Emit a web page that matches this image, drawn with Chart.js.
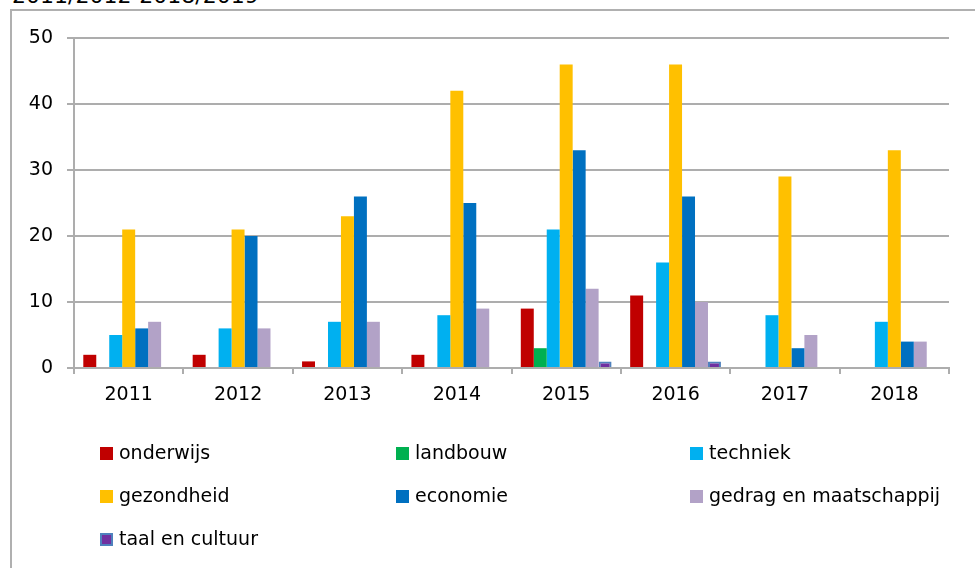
<!DOCTYPE html>
<html>
<head>
<meta charset="utf-8">
<script src="https://cdn.jsdelivr.net/npm/chart.js@4"></script>
<style>
  html, body { margin: 0; padding: 0; background: #fff; overflow: hidden; }
  body { width: 975px; height: 568px; position: relative; font-family: "DejaVu Sans", sans-serif; }
  #title { position: absolute; left: 12px; top: -15px; font-size: 22px; line-height: 22px; color: #000; white-space: nowrap; }
  #frame { position: absolute; left: 10px; top: 9px; width: 1000px; height: 600px; border-left: 2px solid #b0b0b0; border-top: 2px solid #b0b0b0; }
  #wrap { position: absolute; left: 0; top: 0; width: 975px; height: 568px; }
  #legend { position: absolute; left: 0; top: 0; }
  .item { position: absolute; font-size: 19px; line-height: 20px; color: #000; white-space: nowrap; }
  .box { display: inline-block; width: 13px; height: 13px; vertical-align: -1px; margin-right: 6px; box-sizing: border-box; }
</style>
</head>
<body>
<div id="title">2011/2012-2018/2019</div>
<div id="frame"></div>
<div id="wrap"><canvas id="chart"></canvas></div>
<div id="legend"></div>
<script>
const years = ['2011', '2012', '2013', '2014', '2015', '2016', '2017', '2018'];

const onderwijs = [2, 2, 1, 2, 9, 11, 0, 0];
const landbouw = [0, 0, 0, 0, 3, 0, 0, 0];
const techniek = [5, 6, 7, 8, 21, 16, 8, 7];
const gezondheid = [21, 21, 23, 42, 46, 46, 29, 33];
const economie = [6, 20, 26, 25, 33, 26, 3, 4];
const gedrag = [7, 6, 7, 9, 12, 10, 5, 4];
const taal = [0, 0, 0, 0, 1, 1, 0, 0];

const yTicks = [0, 10, 20, 30, 40, 50];

const series = [
    { label: 'onderwijs', data: onderwijs, color: '#C00000', border: '#C00000' },
    { label: 'landbouw', data: landbouw, color: '#00B050', border: '#00B050' },
    { label: 'techniek', data: techniek, color: '#00B0F0', border: '#00B0F0' },
    { label: 'gezondheid', data: gezondheid, color: '#FFC000', border: '#FFC000' },
    { label: 'economie', data: economie, color: '#0070C0', border: '#0070C0' },
    { label: 'gedrag en maatschappij', data: gedrag, color: '#B2A2C7', border: '#B2A2C7' },
    { label: 'taal en cultuur', data: taal, color: '#7030A0', border: '#4F81BD' }
];

// legend in three columns, like the original
const legendPos = [
    [100, 442], [396, 442], [690, 442],
    [100, 485], [396, 485], [690, 485],
    [100, 528]
];
const legendEl = document.getElementById('legend');
series.forEach((s, i) => {
    const div = document.createElement('div');
    div.className = 'item';
    div.style.left = legendPos[i][0] + 'px';
    div.style.top = legendPos[i][1] + 'px';
    const box = document.createElement('span');
    box.className = 'box';
    box.style.background = s.color;
    if (s.border !== s.color) box.style.border = '2px solid ' + s.border;
    div.appendChild(box);
    div.appendChild(document.createTextNode(s.label));
    legendEl.appendChild(div);
});

const ctx = document.getElementById('chart').getContext('2d');
new Chart(ctx, {
    type: 'bar',
    data: {
        labels: years,
        datasets: series.map(s => ({
            label: s.label,
            data: s.data,
            backgroundColor: s.color,
            borderColor: s.border,
            borderWidth: s.border !== s.color ? 2 : 0,
            barPercentage: 1,
            categoryPercentage: 0.83
        }))
    },
    options: {
        responsive: true,
        maintainAspectRatio: false,
        animation: false,
        layout: { padding: { top: 38, right: 26, left: 0, bottom: 0 } },
        plugins: {
            legend: { display: false },
            tooltip: { enabled: false }
        },
        scales: {
            x: {
                afterFit: (scale) => { scale.height = 200; },
                grid: {
                    display: true,
                    offset: true,
                    drawOnChartArea: false,
                    drawTicks: true,
                    tickLength: 6,
                    color: '#adadad',
                    lineWidth: 2
                },
                border: { display: true, color: '#adadad', width: 2 },
                ticks: {
                    color: '#000',
                    padding: 10,
                    font: { family: 'DejaVu Sans', size: 19 }
                }
            },
            y: {
                min: 0,
                max: 50,
                afterFit: (scale) => { scale.width = 74; },
                afterBuildTicks: (scale) => { scale.ticks = yTicks.map(v => ({ value: v })); },
                grid: {
                    color: '#adadad',
                    lineWidth: 2,
                    drawTicks: true,
                    tickLength: 7
                },
                border: { display: true, color: '#adadad', width: 2 },
                ticks: {
                    color: '#000',
                    padding: 14,
                    font: { family: 'DejaVu Sans', size: 19 }
                }
            }
        }
    }
});
</script>
</body>
</html>
